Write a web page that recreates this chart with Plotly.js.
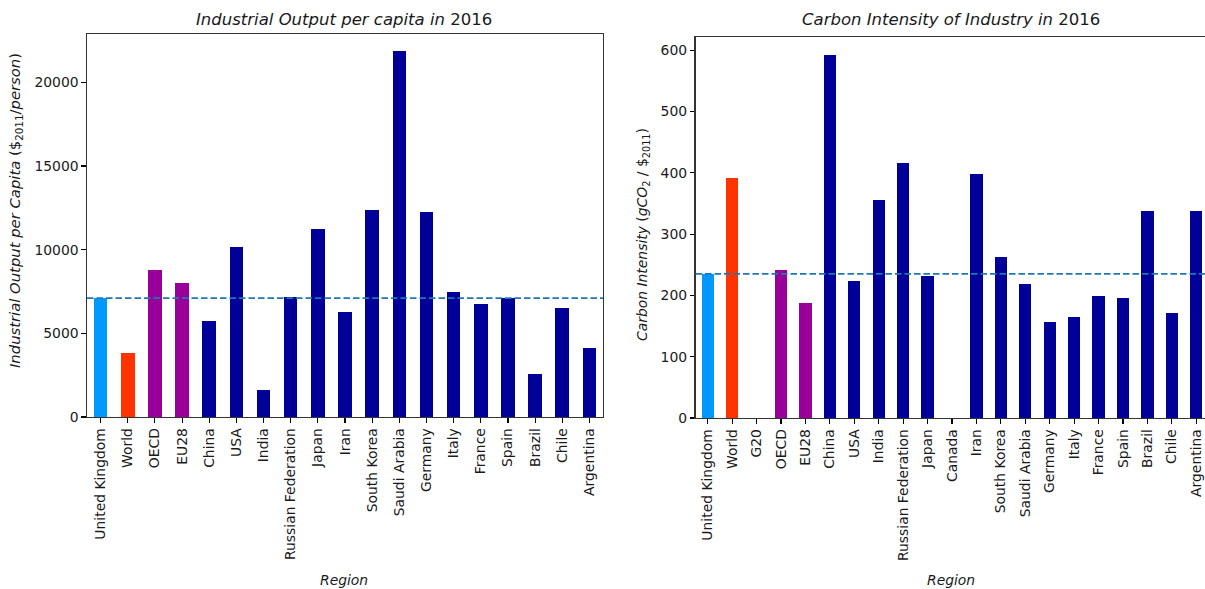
<!DOCTYPE html>
<html>
<head>
<meta charset="utf-8">
<script src="https://cdn.plot.ly/plotly-3.0.1.min.js"></script>
<style>
  html, body { margin: 0; padding: 0; background: #fff; }
  #chart { width: 1205px; height: 589px; }
</style>
</head>
<body>
<div id="chart"></div>
<script>
// Industrial output per capita, 2016 ($2011 per person)
const outputRegions = ["United Kingdom", "World", "OECD", "EU28", "China", "USA", "India",
  "Russian Federation", "Japan", "Iran", "South Korea", "Saudi Arabia", "Germany", "Italy",
  "France", "Spain", "Brazil", "Chile", "Argentina"];
const outputValues = [7100, 3820, 8780, 8020, 5730, 10150, 1630, 7150, 11220, 6290, 12360,
  21850, 12240, 7460, 6730, 7100, 2550, 6530, 4120];
const outputTicks = [0, 5000, 10000, 15000, 20000];

// Carbon intensity of industry, 2016 (gCO2 per $2011); G20 and Canada have no value
const intensityRegions = ["United Kingdom", "World", "G20", "OECD", "EU28", "China", "USA",
  "India", "Russian Federation", "Japan", "Canada", "Iran", "South Korea", "Saudi Arabia",
  "Germany", "Italy", "France", "Spain", "Brazil", "Chile", "Argentina"];
const intensityValues = [235, 392, null, 241, 187.5, 592, 223, 355, 416, 231, null, 398, 263,
  218, 156, 165, 199, 196, 338, 172, 337];
const intensityTicks = [0, 100, 200, 300, 400, 500, 600];

const reference = "United Kingdom";

function barColour(region) {
  if (region === "United Kingdom") return "#0099ff";
  if (region === "World") return "#ff3300";
  if (region === "OECD" || region === "EU28" || region === "G20") return "#990099";
  return "#000099";
}

const W = 1205, H = 589;
const px = x => x / W;
const py = y => 1 - y / H;

const FONT = "DejaVu Sans, sans-serif";
const TXT = "#1a1a1a";

const ukOutput = outputValues[outputRegions.indexOf(reference)];
const ukIntensity = intensityValues[intensityRegions.indexOf(reference)];

const traces = [
  {
    type: "bar", x: outputRegions, y: outputValues, width: 0.5,
    marker: { color: outputRegions.map(barColour) },
    xaxis: "x", yaxis: "y", hoverinfo: "x+y"
  },
  {
    type: "bar", x: intensityRegions, y: intensityValues, width: 0.5,
    marker: { color: intensityRegions.map(barColour) },
    xaxis: "x2", yaxis: "y2", hoverinfo: "x+y"
  }
];

const tickCommon = {
  ticks: "outside", ticklen: 4.5, tickwidth: 1.1, tickcolor: "#000",
  tickfont: { family: FONT, size: 13.9, color: TXT },
  showgrid: false, zeroline: false, automargin: false,
  showline: true, linecolor: "#333", linewidth: 1.1
};

// right-hand panel runs slightly past the page edge, so its x range is trimmed
const rightLeft = 695.5, catWidth = 24.43;
const rightMax = -0.5 + (W - rightLeft) / catWidth;

const dashLine = { color: "#1f77b4", width: 1.8, dash: "6.5px,3px" };

const layout = {
  width: W, height: H,
  margin: { l: 0, r: 0, t: 0, b: 0 },
  paper_bgcolor: "#fff", plot_bgcolor: "#fff",
  showlegend: false,
  bargap: 0,
  xaxis: Object.assign({}, tickCommon, {
    domain: [px(87), px(603)], anchor: "y", type: "category",
    range: [-0.5, outputRegions.length - 0.5], tickangle: -90, mirror: true
  }),
  yaxis: Object.assign({}, tickCommon, {
    domain: [py(417), py(34)], anchor: "x",
    range: [0, 22890], tickmode: "array",
    tickvals: outputTicks, ticktext: outputTicks.map(String), mirror: true
  }),
  xaxis2: Object.assign({}, tickCommon, {
    domain: [px(rightLeft), 1], anchor: "y2", type: "category",
    range: [-0.5, rightMax], tickangle: -90, mirror: true
  }),
  yaxis2: Object.assign({}, tickCommon, {
    domain: [py(418), py(37)], anchor: "x2",
    range: [0, 621.6], tickmode: "array",
    tickvals: intensityTicks, ticktext: intensityTicks.map(String)
  }),
  shapes: [
    {
      type: "line", xref: "x domain", yref: "y", x0: 0, x1: 1, y0: ukOutput, y1: ukOutput,
      line: dashLine
    },
    {
      type: "line", xref: "x2 domain", yref: "y2", x0: 0, x1: 1, y0: ukIntensity, y1: ukIntensity,
      line: dashLine
    }
  ],
  annotations: [
    {
      text: "<i>Industrial Output per capita in</i> 2016",
      x: px(344), y: py(20), xref: "paper", yref: "paper",
      xanchor: "center", yanchor: "middle", showarrow: false,
      font: { family: FONT, size: 16.5, color: TXT }
    },
    {
      text: "<i>Carbon Intensity of Industry in</i> 2016",
      x: px(951), y: py(20), xref: "paper", yref: "paper",
      xanchor: "center", yanchor: "middle", showarrow: false,
      font: { family: FONT, size: 16.5, color: TXT }
    },
    {
      text: "<i>Industrial Output per Capita</i> ($<sub>2011</sub>/<i>person</i>)",
      x: px(16), y: py(211), xref: "paper", yref: "paper", textangle: -90,
      xanchor: "center", yanchor: "middle", showarrow: false,
      font: { family: FONT, size: 14.8, color: TXT }
    },
    {
      text: "<i>Carbon Intensity</i> (<i>gCO</i><sub>2</sub> / $<sub>2011</sub>)",
      x: px(643), y: py(235), xref: "paper", yref: "paper", textangle: -90,
      xanchor: "center", yanchor: "middle", showarrow: false,
      font: { family: FONT, size: 13.9, color: TXT }
    },
    {
      text: "<i>Region</i>",
      x: px(344), y: py(580), xref: "paper", yref: "paper",
      xanchor: "center", yanchor: "middle", showarrow: false,
      font: { family: FONT, size: 13.9, color: TXT }
    },
    {
      text: "<i>Region</i>",
      x: px(951), y: py(580), xref: "paper", yref: "paper",
      xanchor: "center", yanchor: "middle", showarrow: false,
      font: { family: FONT, size: 13.9, color: TXT }
    }
  ]
};

Plotly.newPlot("chart", traces, layout, { staticPlot: true, displayModeBar: false });
</script>
</body>
</html>
